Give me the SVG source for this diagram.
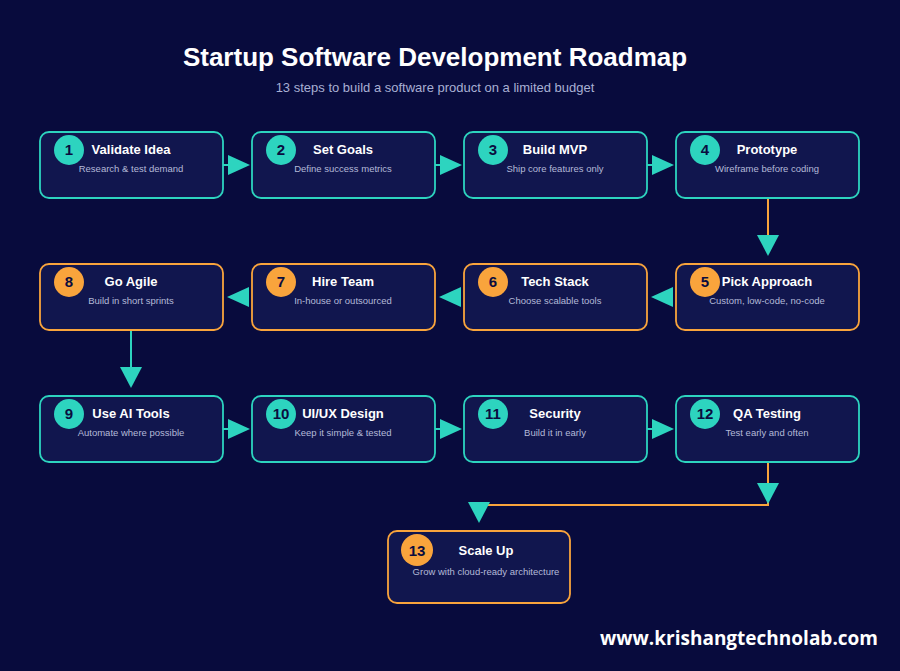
<svg xmlns="http://www.w3.org/2000/svg" width="900" height="671" viewBox="0 0 900 671">
<style>
.box{fill:#11164e;stroke-width:1.8}
.t{stroke:#2dd4bf}.o{stroke:#f9a43c}
.ct{fill:#2dd4bf}.co{fill:#f9a43c}
.num{font:bold 15px "Liberation Sans",Arial,sans-serif;fill:#0a0d3f;text-anchor:middle}
.ttl{font:bold 13px "Liberation Sans",Arial,sans-serif;fill:#fff;text-anchor:middle}
.sub{font:9.5px "Liberation Sans",Arial,sans-serif;fill:#b4bad8;text-anchor:middle}
.ln{stroke-width:2;fill:none}
.ah{fill:#2dd4bf}
</style>
<rect width="900" height="671" fill="#080b3d"/>
<text x="435" y="66" font-family="Liberation Sans,Arial,sans-serif" font-weight="bold" font-size="26" fill="#fff" text-anchor="middle">Startup Software Development Roadmap</text>
<text x="435" y="92" font-family="Liberation Sans,Arial,sans-serif" font-size="13" fill="#a8b0d4" text-anchor="middle">13 steps to build a software product on a limited budget</text>

<g id="connectors">
<g class="ln" stroke="#2dd4bf">
<path d="M223 165H229M435 165H441M647 165H653"/>
<path d="M131 330V368"/>
<path d="M223 429H229M435 429H441M647 429H653"/>
</g>
<g class="ln" stroke="#f9a43c">
<path d="M768 198V236"/>
<path d="M768 462V505H479"/>
</g>
<g class="ah">
<path d="M228 155L250 165L228 175Z"/><path d="M440 155L462 165L440 175Z"/><path d="M652 155L674 165L652 175Z"/>
<path d="M757 235L779 235L768 256Z"/>
<path d="M673 287L651 297L673 307Z"/><path d="M461 287L439 297L461 307Z"/><path d="M249 287L227 297L249 307Z"/>
<path d="M120 367L142 367L131 388Z"/>
<path d="M228 419L250 429L228 439Z"/><path d="M440 419L462 429L440 439Z"/><path d="M652 419L674 429L652 439Z"/>
<path d="M757 483L779 483L768 504Z"/>
<path d="M468 502L490 502L479 523Z"/>
</g>
</g>

<g id="n1"><rect class="box t" x="40" y="132" width="183" height="66" rx="9"/><circle class="ct" cx="69" cy="150" r="15"/><text class="num" x="69" y="155">1</text><text class="ttl" x="131" y="154">Validate Idea</text><text class="sub" x="131" y="172">Research &amp; test demand</text></g>
<g id="n2"><rect class="box t" x="252" y="132" width="183" height="66" rx="9"/><circle class="ct" cx="281" cy="150" r="15"/><text class="num" x="281" y="155">2</text><text class="ttl" x="343" y="154">Set Goals</text><text class="sub" x="343" y="172">Define success metrics</text></g>
<g id="n3"><rect class="box t" x="464" y="132" width="183" height="66" rx="9"/><circle class="ct" cx="493" cy="150" r="15"/><text class="num" x="493" y="155">3</text><text class="ttl" x="555" y="154">Build MVP</text><text class="sub" x="555" y="172">Ship core features only</text></g>
<g id="n4"><rect class="box t" x="676" y="132" width="183" height="66" rx="9"/><circle class="ct" cx="705" cy="150" r="15"/><text class="num" x="705" y="155">4</text><text class="ttl" x="767" y="154">Prototype</text><text class="sub" x="767" y="172">Wireframe before coding</text></g>

<g id="n5"><rect class="box o" x="676" y="264" width="183" height="66" rx="9"/><circle class="co" cx="705" cy="282" r="15"/><text class="num" x="705" y="287">5</text><text class="ttl" x="767" y="286">Pick Approach</text><text class="sub" x="767" y="304">Custom, low-code, no-code</text></g>
<g id="n6"><rect class="box o" x="464" y="264" width="183" height="66" rx="9"/><circle class="co" cx="493" cy="282" r="15"/><text class="num" x="493" y="287">6</text><text class="ttl" x="555" y="286">Tech Stack</text><text class="sub" x="555" y="304">Choose scalable tools</text></g>
<g id="n7"><rect class="box o" x="252" y="264" width="183" height="66" rx="9"/><circle class="co" cx="281" cy="282" r="15"/><text class="num" x="281" y="287">7</text><text class="ttl" x="343" y="286">Hire Team</text><text class="sub" x="343" y="304">In-house or outsourced</text></g>
<g id="n8"><rect class="box o" x="40" y="264" width="183" height="66" rx="9"/><circle class="co" cx="69" cy="282" r="15"/><text class="num" x="69" y="287">8</text><text class="ttl" x="131" y="286">Go Agile</text><text class="sub" x="131" y="304">Build in short sprints</text></g>

<g id="n9"><rect class="box t" x="40" y="396" width="183" height="66" rx="9"/><circle class="ct" cx="69" cy="414" r="15"/><text class="num" x="69" y="419">9</text><text class="ttl" x="131" y="418">Use AI Tools</text><text class="sub" x="131" y="436">Automate where possible</text></g>
<g id="n10"><rect class="box t" x="252" y="396" width="183" height="66" rx="9"/><circle class="ct" cx="281" cy="414" r="15"/><text class="num" x="281" y="419">10</text><text class="ttl" x="343" y="418">UI/UX Design</text><text class="sub" x="343" y="436">Keep it simple &amp; tested</text></g>
<g id="n11"><rect class="box t" x="464" y="396" width="183" height="66" rx="9"/><circle class="ct" cx="493" cy="414" r="15"/><text class="num" x="493" y="419">11</text><text class="ttl" x="555" y="418">Security</text><text class="sub" x="555" y="436">Build it in early</text></g>
<g id="n12"><rect class="box t" x="676" y="396" width="183" height="66" rx="9"/><circle class="ct" cx="705" cy="414" r="15"/><text class="num" x="705" y="419">12</text><text class="ttl" x="767" y="418">QA Testing</text><text class="sub" x="767" y="436">Test early and often</text></g>

<g id="n13"><rect class="box o" x="388" y="531" width="182" height="72" rx="9"/><circle class="co" cx="417" cy="550" r="16"/><text class="num" x="417" y="556">13</text><text class="ttl" x="486" y="555">Scale Up</text><text class="sub" x="486" y="575">Grow with cloud-ready architecture</text></g>

<text x="878" y="645" font-family="Open Sans,Liberation Sans,sans-serif" font-weight="bold" font-size="19" fill="#fff" text-anchor="end">www.krishangtechnolab.com</text>
</svg>
